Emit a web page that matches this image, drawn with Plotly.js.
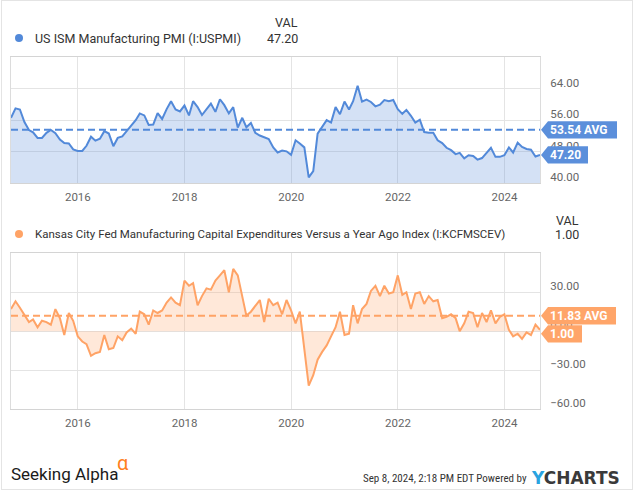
<!DOCTYPE html>
<html><head><meta charset="utf-8">
<script src="https://cdn.plot.ly/plotly-3.0.1.min.js"></script>
<style>
html,body{margin:0;padding:0;background:#fff;}
#frame{position:absolute;left:1px;top:0;width:630px;height:488px;border:1px solid #e4e4e4;}
#chart{width:630px;height:488px;}
</style></head><body>
<div id="frame"><div id="chart"></div></div>
<script>
// ---- data ----
const startYear = 2014, startMonth = 9; // first observation: Sep 2014 (month-end), monthly to Aug 2024
const pmiName = 'US ISM Manufacturing PMI (I:USPMI)';
const kcName = 'Kansas City Fed Manufacturing Capital Expenditures Versus a Year Ago Index (I:KCFMSCEV)';
const pmiValues = [
  56.6, 59.0, 58.7, 55.5,
  53.5, 52.9, 51.5, 51.5, 52.8, 53.5, 52.7, 51.1, 50.2, 50.1, 48.6, 48.2,
  48.2, 49.5, 51.8, 50.8, 51.3, 53.2, 52.6, 49.4, 51.5, 51.9, 53.2, 54.7,
  56.0, 57.7, 57.2, 54.8, 54.9, 57.8, 56.3, 58.8, 60.8, 58.7, 58.2, 59.7,
  57.2, 60.8, 59.3, 57.3, 58.7, 60.2, 58.1, 61.3, 59.8, 57.7, 59.3, 54.1,
  56.6, 54.2, 55.3, 52.8, 52.1, 51.7, 51.2, 49.1, 47.8, 48.3, 48.1, 47.2,
  50.9, 50.1, 49.1, 41.5, 43.1, 52.6, 54.2, 56.0, 55.4, 59.3, 57.5, 60.7,
  58.7, 60.8, 64.7, 60.7, 61.2, 60.6, 59.5, 59.9, 61.1, 60.8, 61.1, 58.8,
  57.6, 58.6, 57.1, 55.4, 56.1, 53.0, 52.8, 52.8, 50.9, 50.2, 49.0, 48.4,
  47.4, 47.7, 46.3, 47.1, 46.9, 46.0, 46.4, 47.6, 49.0, 46.7, 46.7, 47.1,
  49.1, 47.8, 50.3, 49.2, 48.7, 48.5, 46.8, 47.2
];
const kcValues = [
  17, 23, 18, 13, 7, 9, 3, 8, 7, 5,
  17, 10, -3, 14, 8, -4, -8, -10, -19, -17,
  -16, -3, -14, -13, -4, -7, -1, 2, -2, 15,
  13, 5, 16, 14, 16, 22, 26, 22, 20, 39,
  35, 37, 20, 27, 33, 32, 39, 43, 47, 30,
  48, 43, 27, 12, 15, 19, 24, 7, 25, 20,
  22, 13, 24, 16, 6, 15, -14, -42, -34, -22,
  -16, -11, -4, 3, 15, -3, -2, 20, 6, 17,
  21, 31, 35, 27, 35, 29, 30, 43, 28, 30,
  17, 29, 30, 21, 27, 23, 24, 10, 11, 13,
  10, 0, 6, 15, 14, 3, 14, 7, 16, 6,
  11, 13, 1, -4, -2, -6, -1, -3, 5, 1
];
const pmiAvg = 53.54, kcAvg = 11.83;
const pmiLast = 47.20, kcLast = 1.00;
const pmiTicks = [40, 48, 56, 64];
const kcTicks = [-60, -30, 0, 30];
const yearTickDates = ['2016-01-01', '2018-01-01', '2020-01-01', '2022-01-01', '2024-01-01'];
const yearTickLabels = ['2016', '2018', '2020', '2022', '2024'];
const stampText = 'Sep 8, 2024, 2:18 PM EDT Powered by';

// ---- build month-end dates ----
const dates = pmiValues.map((_, i) => new Date(Date.UTC(startYear, startMonth + i, 0)).toISOString().slice(0, 10));
const xRange = [dates[0], dates[dates.length - 1]];

// ---- styling ----
const BLUE = '#5289d9', BLUE_FILL = 'rgba(82,137,217,0.25)', BLUE_TAG = '#5b8fdb';
const ORANGE = '#ffa366', ORANGE_FILL = 'rgba(255,163,102,0.25)', ORANGE_TAG = '#ffa569';
const FONT = 'Roboto, sans-serif';
const W = 630, H = 488, M = {l: 9, r: 92, t: 56, b: 80};
const PW = W - M.l - M.r, PH = H - M.t - M.b;
const px = x => (x - 2 - M.l) / PW;   // page pixel -> paper
const py = y => 1 - (y - 1 - M.t) / PH;

function txt(text, x, y, xanchor, size, color, extra) {
  return Object.assign({text, xref: 'paper', yref: 'paper', x: px(x), y: py(y), xanchor, yanchor: 'middle',
    showarrow: false, font: {family: FONT, size, color}, borderpad: 0}, extra || {});
}
function tag(yref, value, width, color, label, dy) {
  const h = 8.7, o = dy || 0;
  return {
    shape: {type: 'path', xref: 'paper', yref, xsizemode: 'pixel', ysizemode: 'pixel', xanchor: 1, yanchor: value,
      path: `M1,${o}L8,${o + h}L${width},${o + h}L${width},${o - h}L8,${o - h}Z`,
      fillcolor: color, line: {width: 0}, layer: 'above'},
    ann: {text: label, xref: 'paper', yref, x: 1, y: value, xanchor: 'left', yanchor: 'middle', xshift: 9, yshift: o,
      showarrow: false, borderpad: 0, font: {family: FONT, size: 12, color: '#fff', weight: 'bold'}}
  };
}

const traces = [
  {x: dates, y: pmiValues, xaxis: 'x', yaxis: 'y', type: 'scatter', mode: 'lines',
   line: {color: BLUE, width: 2}, fill: 'tozeroy', fillcolor: BLUE_FILL, hoverinfo: 'skip'},
  {x: xRange, y: [pmiAvg, pmiAvg], xaxis: 'x', yaxis: 'y', type: 'scatter', mode: 'lines',
   line: {color: BLUE, width: 2, dash: '7px,4px'}, hoverinfo: 'skip'},
  {x: dates, y: kcValues, xaxis: 'x2', yaxis: 'y2', type: 'scatter', mode: 'lines',
   line: {color: ORANGE, width: 2}, fill: 'tozeroy', fillcolor: ORANGE_FILL, hoverinfo: 'skip'},
  {x: xRange, y: [kcAvg, kcAvg], xaxis: 'x2', yaxis: 'y2', type: 'scatter', mode: 'lines',
   line: {color: ORANGE, width: 2, dash: '7px,4px'}, hoverinfo: 'skip'}
];

const xCommon = {type: 'date', range: xRange, tickvals: yearTickDates, ticktext: yearTickLabels,
  showgrid: true, gridcolor: '#e4e4e4', gridwidth: 1, showline: true, linecolor: '#d4d4d4', linewidth: 1, mirror: true,
  ticks: '', ticklabelstandoff: 3, tickfont: {family: FONT, size: 11.5, color: '#666'}, zeroline: false, fixedrange: true};
const yCommon = {side: 'right', tickformat: '.2f', showgrid: true, gridcolor: '#e4e4e4', gridwidth: 1,
  showline: true, linecolor: '#dcdcdc', linewidth: 1, mirror: true, zeroline: false, ticks: '',
  ticklabelshift: -6, ticklabelstandoff: 7, tickfont: {family: FONT, size: 11.5, color: '#666'}, fixedrange: true};

const tags = [
  tag('y', pmiAvg, 77, BLUE_TAG, pmiAvg.toFixed(2) + ' AVG'),
  tag('y', pmiLast, 48, BLUE_TAG, pmiLast.toFixed(2)),
  tag('y2', kcAvg, 76, ORANGE_TAG, kcAvg.toFixed(2) + ' AVG'),
  tag('y2', kcLast, 42, ORANGE_TAG, kcLast.toFixed(2), -4)
];

const dot = (x, y, color) => ({type: 'circle', xref: 'paper', yref: 'paper', xsizemode: 'pixel', ysizemode: 'pixel',
  xanchor: px(x), yanchor: py(y), x0: -4, x1: 4, y0: -4, y1: 4, fillcolor: color, line: {width: 0}});

const layout = {
  width: W, height: H, margin: M, paper_bgcolor: '#fff', plot_bgcolor: '#fff', showlegend: false,
  font: {family: FONT},
  xaxis: Object.assign({}, xCommon, {anchor: 'y'}),
  xaxis2: Object.assign({}, xCommon, {anchor: 'y2'}),
  yaxis: Object.assign({}, yCommon, {domain: [0.6412, 1], range: [40, 72], tickvals: pmiTicks, anchor: 'x'}),
  yaxis2: Object.assign({}, yCommon, {domain: [0, 0.4423], range: [-60, 60], tickvals: kcTicks, anchor: 'x2'}),
  shapes: [dot(19, 38, BLUE), dot(19, 234, ORANGE)].concat(tags.map(t => t.shape)),
  annotations: [
    txt(pmiName, 34, 38, 'left', 12.5, '#333'),
    txt('VAL', 299, 23, 'right', 12.5, '#333'),
    txt(pmiLast.toFixed(2), 299, 38, 'right', 12.5, '#333'),
    txt(kcName, 34, 234, 'left', 11.5, '#333'),
    txt('VAL', 580, 221, 'right', 12.5, '#333'),
    txt(kcLast.toFixed(2), 580, 234, 'right', 12.5, '#333'),
    txt('Seeking Alpha', 10, 474, 'left', 17, '#1a1a1a'),
    txt('α', 116, 463, 'left', 20, '#ff7f1e'),
    txt(stampText, 528, 478, 'right', 11, '#333', {font: {family: 'Roboto Condensed, Liberation Sans Narrow, Roboto', size: 11, color: '#333'}}),
    txt('<span style="color:#2aa3e0">Y</span>CHARTS', 530, 477.5, 'left', 17, '#3a3a3a',
        {font: {family: 'DejaVu Sans, Roboto', size: 17, color: '#3a3a3a', weight: 'bold'}})
  ].concat(tags.map(t => t.ann))
};

Plotly.newPlot('chart', traces, layout, {staticPlot: true, displayModeBar: false});
</script>
</body></html>
